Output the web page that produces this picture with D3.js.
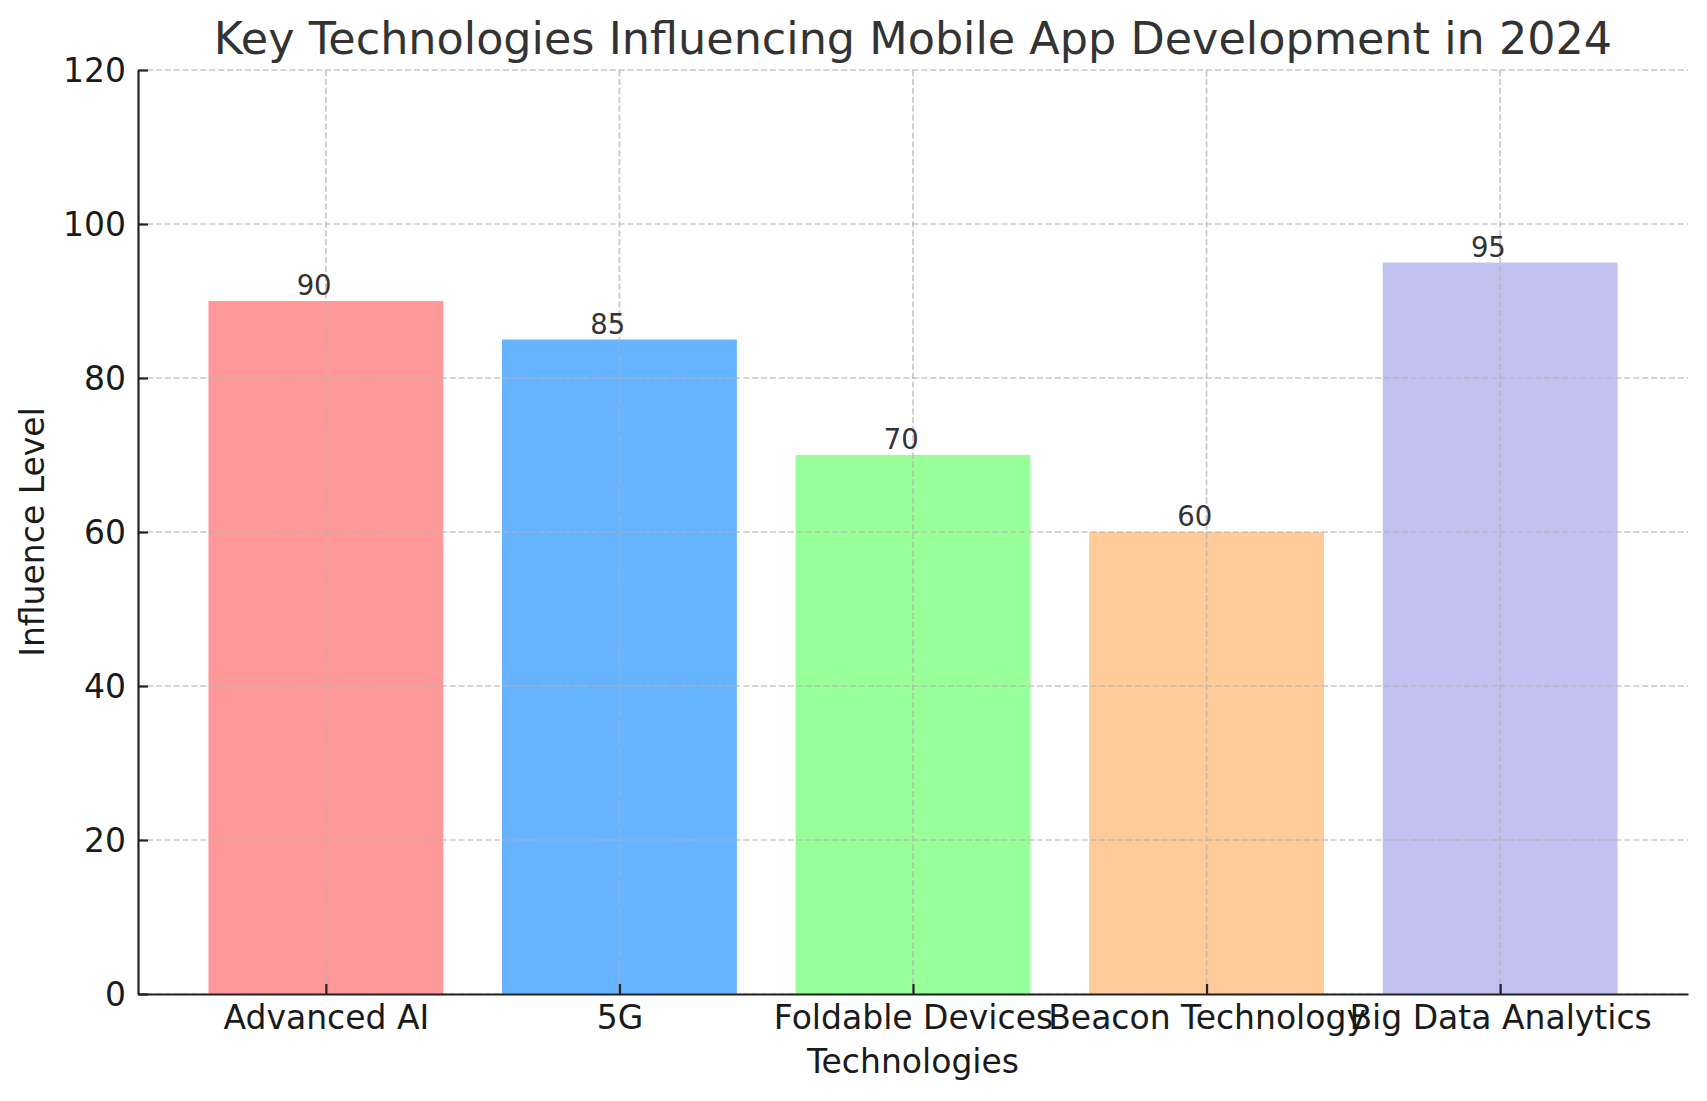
<!DOCTYPE html>
<html>
<head>
<meta charset="utf-8">
<script src="https://cdn.jsdelivr.net/npm/d3@7/dist/d3.min.js"></script>
<style>
  body { margin: 0; background: #fff; }
  text { font-family: 'DejaVu Sans', sans-serif; }
  .tick-label { font-size: 33px; fill: #1a1a1a; }
  .axis-title { font-size: 33px; fill: #1a1a1a; }
  .chart-title { font-size: 44.5px; fill: #333; }
  .bar-value { font-size: 27.5px; fill: #333; }
</style>
</head>
<body>
<svg id="techBarChart"></svg>
<script>
const technologies = ['Advanced AI', '5G', 'Foldable Devices', 'Beacon Technology', 'Big Data Analytics'];
const influenceValues = [90, 85, 70, 60, 95];
const barColors = ['#ff9999', '#66b3ff', '#99ff99', '#ffcc99', '#c2c2f0'];
const yTicks = [0, 20, 40, 60, 80, 100, 120];

class TechBarChart {
  constructor() {
    this.width = 1707;
    this.height = 1101;
    this.margin = { top: 70, right: 19, bottom: 107, left: 138 };
    this.initSvg();
    this.initScales();
    this.setBars();
    this.setGrid();
    this.setAxes();
    this.setTexts();
  }

  initSvg() {
    this.svg = d3.select('#techBarChart')
      .attr('width', this.width)
      .attr('height', this.height);
    this.innerW = this.width - this.margin.left - this.margin.right;
    this.innerH = this.height - this.margin.top - this.margin.bottom;
    this.plot = this.svg.append('g')
      .attr('transform', `translate(${this.margin.left},${this.margin.top})`);
  }

  initScales() {
    // same as matplotlib: bars of width .8, 5% margin on each side
    const n = technologies.length;
    const pad = 0.05 * (n - 1 + 0.8);
    this.x = d3.scaleLinear()
      .domain([-0.4 - pad, n - 1 + 0.4 + pad])
      .range([0, this.innerW]);
    this.y = d3.scaleLinear().domain([0, 120]).range([this.innerH, 0]);
    this.barW = this.x(0.8) - this.x(0);
  }

  setBars() {
    this.plot.selectAll('.bar')
      .data(influenceValues)
      .enter()
      .append('rect')
      .attr('class', 'bar')
      .attr('x', (d, i) => this.x(i) - this.barW / 2)
      .attr('y', d => this.y(d))
      .attr('width', this.barW)
      .attr('height', d => this.y(0) - this.y(d))
      .attr('fill', (d, i) => barColors[i]);
  }

  setGrid() {
    const grid = this.plot.append('g').attr('class', 'grid')
      .attr('stroke', '#b0b0b0')
      .attr('stroke-opacity', 0.7)
      .attr('stroke-width', 1.7)
      .attr('stroke-dasharray', '6.2,2.7');
    grid.selectAll('.hgrid')
      .data(yTicks)
      .enter()
      .append('line')
      .attr('x1', 0)
      .attr('x2', this.innerW)
      .attr('y1', d => this.y(d))
      .attr('y2', d => this.y(d));
    grid.selectAll('.vgrid')
      .data(technologies)
      .enter()
      .append('line')
      .attr('x1', (d, i) => this.x(i))
      .attr('x2', (d, i) => this.x(i))
      .attr('y1', 0)
      .attr('y2', this.innerH);
  }

  setAxes() {
    const xAxis = d3.axisBottom(this.x)
      .tickValues(d3.range(technologies.length))
      .tickFormat(i => technologies[i])
      .tickSizeInner(-10)
      .tickSizeOuter(0)
      .tickPadding(22);
    const yAxis = d3.axisLeft(this.y)
      .tickValues(yTicks)
      .tickSizeInner(-10)
      .tickSizeOuter(0)
      .tickPadding(22);

    const gx = this.plot.append('g')
      .attr('transform', `translate(0,${this.innerH})`)
      .call(xAxis);
    const gy = this.plot.append('g').call(yAxis);

    [gx, gy].forEach(g => {
      g.attr('font-size', null).attr('font-family', null);
      g.select('.domain').attr('stroke', '#222').attr('stroke-width', 2.2);
      g.selectAll('.tick line').attr('stroke', '#222').attr('stroke-width', 2.2);
      g.selectAll('.tick text').attr('class', 'tick-label');
    });
    gx.selectAll('.tick text').attr('dy', '0.71em').attr('y', 12);
    gy.selectAll('.tick text').attr('x', -12).attr('dy', '0.36em');
  }

  setTexts() {
    // value labels above each bar
    this.plot.selectAll('.bar-value')
      .data(influenceValues)
      .enter()
      .append('text')
      .attr('class', 'bar-value')
      .attr('text-anchor', 'middle')
      .attr('x', (d, i) => this.x(i - 0.04))
      .attr('y', d => this.y(d) - 6)
      .text(d => d);

    const cx = this.margin.left + this.innerW / 2;
    this.svg.append('text')
      .attr('class', 'chart-title')
      .attr('text-anchor', 'middle')
      .attr('x', cx)
      .attr('y', 54)
      .text('Key Technologies Influencing Mobile App Development in 2024');

    this.svg.append('text')
      .attr('class', 'axis-title')
      .attr('text-anchor', 'middle')
      .attr('x', cx)
      .attr('y', 1073)
      .text('Technologies');

    this.svg.append('text')
      .attr('class', 'axis-title')
      .attr('text-anchor', 'middle')
      .attr('transform', `translate(44,${this.margin.top + this.innerH / 2}) rotate(-90)`)
      .text('Influence Level');
  }
}

new TechBarChart();
</script>
</body>
</html>
